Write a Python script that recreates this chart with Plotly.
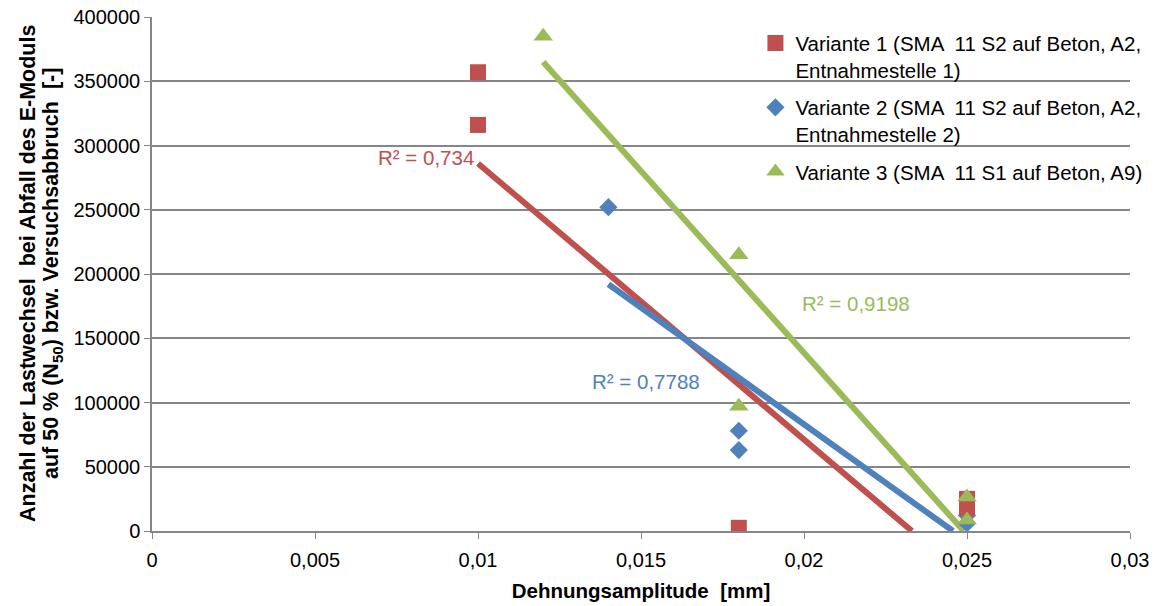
import plotly.graph_objects as go

# Data
v1_x = [0.01, 0.01, 0.018, 0.025, 0.025]
v1_y = [357000, 316000, 2500, 25000, 18000]
v2_x = [0.014, 0.018, 0.018, 0.025, 0.025]
v2_y = [252000, 78000, 63000, 12000, 6000]
v3_x = [0.012, 0.018, 0.018, 0.025, 0.025]
v3_y = [385000, 215000, 97000, 26500, 8600]

# Linear trendlines (endpoints)
t1_x = [0.01, 0.02331]
t1_y = [286000, 0]
t2_x = [0.014, 0.02457]
t2_y = [192000, 0]
t3_x = [0.012, 0.0249]
t3_y = [365000, 0]

r2_labels = ["R² = 0,734", "R² = 0,7788", "R² = 0,9198"]
r2_x = [0.0084, 0.01515, 0.0216]
r2_y = [290300, 116000, 176700]

names = [
    "Variante 1 (SMA  11 S2 auf Beton, A2,<br>Entnahmestelle 1)",
    "Variante 2 (SMA  11 S2 auf Beton, A2,<br>Entnahmestelle 2)",
    "Variante 3 (SMA  11 S1 auf Beton, A9)",
]
colors = ["#C0504D", "#4F81BD", "#9BBB59"]

x_ticks = [0, 0.005, 0.01, 0.015, 0.02, 0.025, 0.03]
x_tick_labels = ["0", "0,005", "0,01", "0,015", "0,02", "0,025", "0,03"]
y_ticks = [0, 50000, 100000, 150000, 200000, 250000, 300000, 350000, 400000]

y_title_lines = ["Anzahl der Lastwechsel  bei Abfall des E-Moduls",
                 "auf 50 % (N<sub>50</sub>) bzw. Versuchsabbruch  [-]"]
x_title = "Dehnungsamplitude  [mm]"

FONT = "Liberation Sans, Arial, sans-serif"

fig = go.Figure()

# trendlines
for tx, ty, c in [(t1_x, t1_y, colors[0]), (t2_x, t2_y, colors[1]), (t3_x, t3_y, colors[2])]:
    fig.add_trace(go.Scatter(x=tx, y=ty, mode="lines", line=dict(color=c, width=6),
                             showlegend=False, hoverinfo="skip"))

# markers
fig.add_trace(go.Scatter(x=v2_x, y=v2_y, mode="markers", name=names[1], legendrank=2,
                         legendgroup="g2",
                         marker=dict(symbol="diamond", size=14, color=colors[1])))
fig.add_trace(go.Scatter(x=v1_x, y=v1_y, mode="markers", name=names[0], legendrank=1,
                         legendgroup="g1",
                         marker=dict(symbol="square", size=16, color=colors[0])))
fig.add_trace(go.Scatter(x=v3_x, y=v3_y, mode="markers", name=names[2], legendrank=3,
                         legendgroup="g3",
                         marker=dict(symbol="triangle-up", size=17, color=colors[2])))

for lab, x, y, c in zip(r2_labels, r2_x, r2_y, colors):
    fig.add_annotation(x=x, y=y, text=lab, showarrow=False,
                       font=dict(family=FONT, size=20.5, color=c))

# y-axis title, two rotated lines
for i, (line, shift) in enumerate(zip(y_title_lines, [-124, -100])):
    fig.add_annotation(xref="paper", yref="paper", x=0, y=0.5, xshift=shift,
                       xanchor="center", yanchor="middle", textangle=-90,
                       text="<b>" + line + "</b>", showarrow=False,
                       font=dict(family=FONT, size=21.5, color="black"))

fig.update_layout(
    width=1168, height=606,
    margin=dict(l=152, r=38, t=17, b=75, autoexpand=False),
    paper_bgcolor="white", plot_bgcolor="white",
    font=dict(family=FONT, size=20, color="black"),
    showlegend=True,
    legend=dict(x=0.617, y=0.988, xanchor="left", yanchor="top", valign="top",
                bgcolor="rgba(0,0,0,0)", font=dict(family=FONT, size=20.5, color="black"),
                tracegroupgap=8, itemwidth=30),
    xaxis=dict(range=[0, 0.03], tickvals=x_ticks, ticktext=x_tick_labels,
               showgrid=False, zeroline=False, showline=True, linecolor="#868686",
               linewidth=1.5, ticks="outside", ticklen=6, tickcolor="#868686",
               ticklabelstandoff=4,
               tickfont=dict(family=FONT, size=20, color="black"),
               title=dict(text="<b>" + x_title + "</b>", standoff=14,
                          font=dict(family=FONT, size=20.5, color="black"))),
    yaxis=dict(range=[0, 400000], tickvals=y_ticks, tickformat="d",
               showgrid=True, gridcolor="#868686", gridwidth=1.5,
               zeroline=False, showline=True, linecolor="#868686", linewidth=1.5,
               ticks="outside", ticklen=6, tickcolor="#868686",
               tickfont=dict(family=FONT, size=20, color="black")),
)

fig.write_html("out.html")
